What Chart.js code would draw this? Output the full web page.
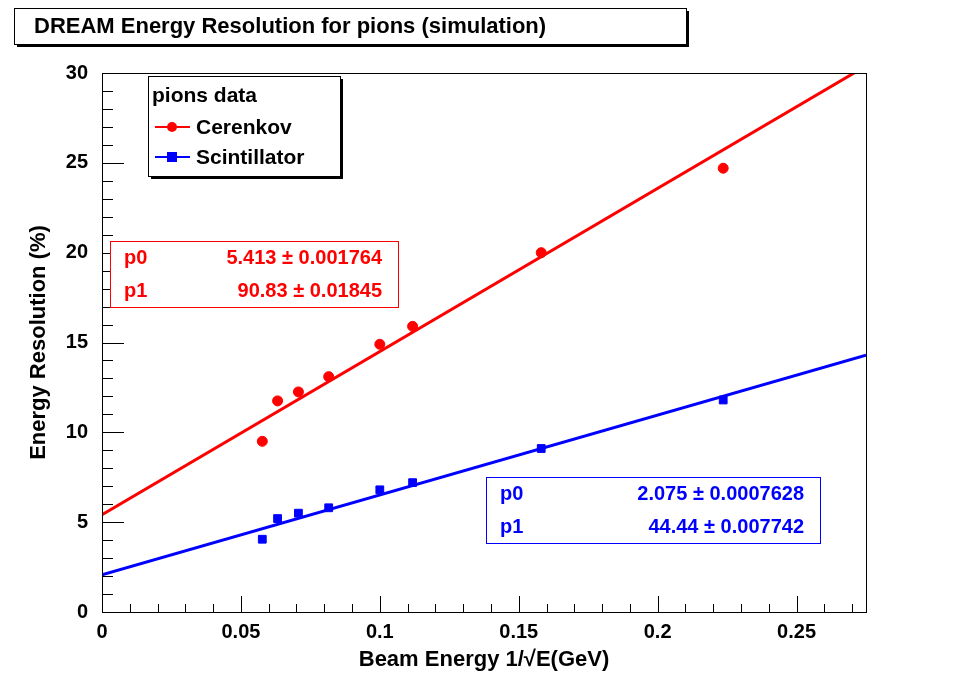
<!DOCTYPE html>
<html><head><meta charset="utf-8">
<script src="https://cdn.jsdelivr.net/npm/chart.js"></script>
<style>body{margin:0;background:#fff}#wrap{width:954px;height:677px}</style>
</head><body><div id="wrap"><canvas id="c" width="954" height="677"></canvas></div>
<script>
const energiesX = [0.0577, 0.0632, 0.0707, 0.0816, 0.1, 0.1118, 0.1581, 0.2236];
const cerenkov = [9.5, 11.75, 12.25, 13.1, 14.9, 15.9, 20.0, 24.7];
const scintillator = [4.05, 5.2, 5.5, 5.8, 6.8, 7.2, 9.1, 11.8];
const cerFit = [5.413, 90.83];
const sciFit = [2.075, 44.44];
const fitX = [0, 0.275];

const F = '"Liberation Sans", Arial, sans-serif';
const pts = (ys) => energiesX.map((x, i) => ({x, y: ys[i]}));
const line = (p) => fitX.map(x => ({x, y: p[0] + p[1] * x}));

function box(ctx, x, y, w, h, color, shadow) {
  if (shadow) { ctx.fillStyle = '#000'; ctx.fillRect(x + 3, y + 3, w, h); }
  ctx.fillStyle = '#fff'; ctx.fillRect(x, y, w, h);
  ctx.strokeStyle = color; ctx.lineWidth = 1; ctx.strokeRect(x + 0.5, y + 0.5, w, h);
}

const decor = {
  id: 'decor',
  afterDraw(chart) {
    const ctx = chart.ctx, a = chart.chartArea;
    ctx.save();
    ctx.strokeStyle = '#000'; ctx.lineWidth = 1;
    ctx.strokeRect(a.left + 0.5, a.top + 0.5, a.right - a.left, a.bottom - a.top);
    const xs = chart.scales.x, ys = chart.scales.y;
    for (let v = 0; v <= 0.275; v += 0.01) {
      const px = Math.round(xs.getPixelForValue(v)) + 0.5;
      const major = Math.abs(v / 0.05 - Math.round(v / 0.05)) < 1e-6;
      ctx.beginPath(); ctx.moveTo(px, a.bottom); ctx.lineTo(px, a.bottom - (major ? 16 : 8)); ctx.stroke();
    }
    for (let v = 0; v <= 30; v += 1) {
      const py = Math.round(ys.getPixelForValue(v)) + 0.5;
      const major = v % 5 === 0;
      ctx.beginPath(); ctx.moveTo(a.left, py); ctx.lineTo(a.left + (major ? 22 : 11), py); ctx.stroke();
    }
    box(ctx, 14, 8, 672, 36, '#000', true);
    ctx.fillStyle = '#000'; ctx.font = 'bold 22px ' + F; ctx.textBaseline = 'middle';
    ctx.fillText('DREAM Energy Resolution for pions (simulation)', 34, 27);
    box(ctx, 148, 76, 192, 100, '#000', true);
    ctx.font = 'bold 21px ' + F; ctx.fillStyle = '#000';
    ctx.fillText('pions data', 152, 96);
    ctx.fillText('Cerenkov', 196, 128);
    ctx.fillText('Scintillator', 196, 158);
    ctx.lineWidth = 2;
    ctx.strokeStyle = 'red'; ctx.beginPath(); ctx.moveTo(155, 127); ctx.lineTo(190, 127); ctx.stroke();
    ctx.fillStyle = 'red'; ctx.beginPath(); ctx.arc(172, 127, 5, 0, 7); ctx.fill();
    ctx.strokeStyle = 'blue'; ctx.beginPath(); ctx.moveTo(155, 157); ctx.lineTo(190, 157); ctx.stroke();
    ctx.fillStyle = 'blue'; ctx.fillRect(167, 152, 10, 10);
    const stat = (x, y, w, col, p) => {
      box(ctx, x, y, w, 66, col, false);
      ctx.fillStyle = col; ctx.font = 'bold 20px ' + F;
      ctx.textAlign = 'left';
      ctx.fillText('p0', x + 14, y + 17); ctx.fillText('p1', x + 14, y + 50);
      ctx.textAlign = 'right';
      ctx.fillText(p[0], x + w - 16, y + 17); ctx.fillText(p[1], x + w - 16, y + 50);
      ctx.textAlign = 'left';
    };
    stat(110, 241, 288, 'red', ['5.413 \u00b1 0.001764', '90.83 \u00b1 0.01845']);
    stat(486, 477, 334, 'blue', ['2.075 \u00b1 0.0007628', '44.44 \u00b1 0.007742']);
    ctx.restore();
  }
};

new Chart(document.getElementById('c'), {
  type: 'scatter',
  data: { datasets: [
    { data: line(cerFit), showLine: true, borderColor: 'red', borderWidth: 3, pointRadius: 0 },
    { data: line(sciFit), showLine: true, borderColor: 'blue', borderWidth: 3, pointRadius: 0 },
    { data: pts(cerenkov), backgroundColor: 'red', borderColor: 'red', pointRadius: 5, pointStyle: 'circle' },
    { data: pts(scintillator), backgroundColor: 'blue', borderColor: 'blue', pointRadius: 5.5, pointStyle: 'rect' }
  ]},
  options: {
    responsive: false, animation: false,
    layout: { padding: { top: 73, right: 88, left: 22, bottom: 0 } },
    plugins: { legend: { display: false }, tooltip: { enabled: false } },
    scales: {
      x: { type: 'linear', min: 0, max: 0.275,
        afterFit: s => { s.height = 65; },
        afterBuildTicks: s => { s.ticks = [0, 0.05, 0.1, 0.15, 0.2, 0.25].map(v => ({value: v})); },
        grid: { display: false }, border: { display: false },
        ticks: { color: '#000', font: { family: F, size: 20, weight: 'bold' }, padding: 0, maxRotation: 0,
          callback: v => v === 0 ? '0' : String(v) },
        title: { display: true, text: 'Beam Energy 1/\u221aE(GeV)', color: '#000',
          font: { family: F, size: 22, weight: 'bold' }, padding: { top: 0 } } },
      y: { min: 0, max: 30,
        afterFit: s => { s.width = 80; },
        afterBuildTicks: s => { s.ticks = [0, 5, 10, 15, 20, 25, 30].map(v => ({value: v})); },
        grid: { display: false }, border: { display: false },
        ticks: { color: '#000', font: { family: F, size: 20, weight: 'bold' }, padding: 6 },
        title: { display: true, text: 'Energy Resolution (%)', color: '#000',
          font: { family: F, size: 22, weight: 'bold' } } }
    }
  },
  plugins: [decor]
});
</script></body></html>
